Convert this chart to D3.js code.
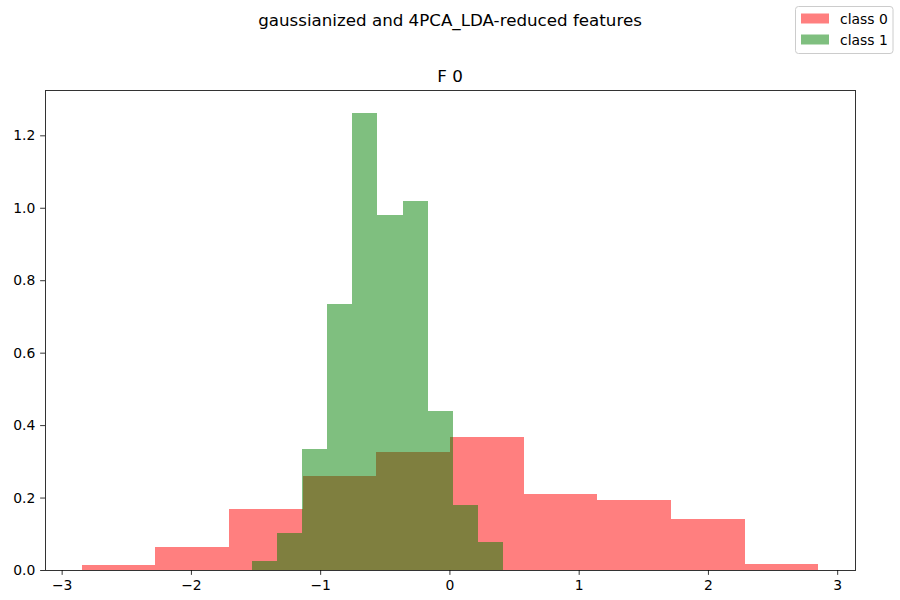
<!DOCTYPE html>
<html>
<head>
<meta charset="utf-8">
<script src="https://cdn.jsdelivr.net/npm/d3@7"></script>
<style>
  body { margin: 0; background: #fff; }
  svg { font-family: "DejaVu Sans", sans-serif; }
</style>
</head>
<body>
<svg id="chart" width="900" height="600"></svg>
<script>
// Histogram data (density).
const class0Edges = [ -2.844, -2.274, -1.704, -1.135, -0.565, 0.005, 0.574, 1.144, 1.714, 2.283, 2.853 ];
const class0Density = [ 0.014, 0.064, 0.168, 0.259, 0.326, 0.367, 0.210, 0.193, 0.141, 0.017 ];
const class1Edges = [ -1.528, -1.334, -1.139, -0.945, -0.751, -0.557, -0.362, -0.168, 0.026, 0.221, 0.415 ];
const class1Density = [ 0.025, 0.103, 0.334, 0.734, 1.262, 0.979, 1.018, 0.439, 0.179, 0.077 ];
const seriesNames = [ "class 0", "class 1" ];
const xTicks = [ -3, -2, -1, 0, 1, 2, 3 ];
const yTicks = [ 0, 0.2, 0.4, 0.6, 0.8, 1.0, 1.2 ];
const suptitle = "gaussianized and 4PCA_LDA-reduced features";
const title = "F 0";

// Layout.
const width = 900, height = 600,
    margin = { top: 90, right: 45, bottom: 30, left: 45 },
    colors = [ "#ff0000", "#008000" ],
    tickLen = 4.86, tickPad = 4.86;

const svg = d3.select( "#chart" );

// Build the bins.
const toBins = ( edges, dens ) => dens.map(( d, i ) => ({ x0: edges[ i ], x1: edges[ i + 1 ], v: d }));
const series = [ toBins( class0Edges, class0Density ), toBins( class1Edges, class1Density ) ];

// Scales, with matplotlib-like 5% margin on x and y.
const allEdges = class0Edges.concat( class1Edges );
const [ xmin, xmax ] = d3.extent( allEdges );
const xpad = 0.05 * ( xmax - xmin );
const xScale = d3.scaleLinear()
    .domain([ xmin - xpad, xmax + xpad ])
    .range([ margin.left, width - margin.right ]);
const ymax = d3.max( class0Density.concat( class1Density ));
const yScale = d3.scaleLinear()
    .domain([ 0, 1.05 * ymax ])
    .range([ height - margin.bottom, margin.top ]);

// Draw the bars, class 0 first then class 1 on top.
series.forEach(( bins, k ) => {
    svg.append( "g" )
        .selectAll( "rect" )
        .data( bins )
        .enter()
        .append( "rect" )
        .attr( "x", d => xScale( d.x0 ))
        .attr( "y", d => yScale( d.v ))
        .attr( "width", d => xScale( d.x1 ) - xScale( d.x0 ))
        .attr( "height", d => yScale( 0 ) - yScale( d.v ))
        .attr( "fill", colors[ k ] )
        .attr( "fill-opacity", 0.5 )
        .attr( "shape-rendering", "crispEdges" );
});

// Axes.
const xAxis = svg.append( "g" )
    .attr( "transform", `translate(0,${ height - margin.bottom })` )
    .call( d3.axisBottom( xScale ).tickValues( xTicks ).tickFormat( d3.format( "d" ))
        .tickSizeInner( tickLen ).tickSizeOuter( 0 ).tickPadding( tickPad ));
const yAxis = svg.append( "g" )
    .attr( "transform", `translate(${ margin.left },0)` )
    .call( d3.axisLeft( yScale ).tickValues( yTicks ).tickFormat( d3.format( ".1f" ))
        .tickSizeInner( tickLen ).tickSizeOuter( 0 ).tickPadding( tickPad ));
[ xAxis, yAxis ].forEach( g => {
    g.select( ".domain" ).remove();
    g.selectAll( "line" ).attr( "stroke", "#000" ).attr( "stroke-width", 0.8 );
    g.selectAll( "text" ).attr( "font-size", "13.9px" ).attr( "fill", "#000" )
        .attr( "font-family", "DejaVu Sans, sans-serif" );
});

// Frame.
svg.append( "rect" )
    .attr( "x", margin.left )
    .attr( "y", margin.top )
    .attr( "width", width - margin.left - margin.right )
    .attr( "height", height - margin.top - margin.bottom )
    .attr( "fill", "none" )
    .attr( "stroke", "#000" )
    .attr( "stroke-width", 0.8 )
    .attr( "shape-rendering", "crispEdges" );

// Titles.
svg.append( "text" )
    .attr( "x", width / 2 ).attr( "y", 26 )
    .attr( "text-anchor", "middle" )
    .attr( "font-size", "16.7px" )
    .text( suptitle );
svg.append( "text" )
    .attr( "x", ( margin.left + width - margin.right ) / 2 ).attr( "y", margin.top - 8.3 )
    .attr( "text-anchor", "middle" )
    .attr( "font-size", "16.7px" )
    .text( title );

// Legend.
const legend = svg.append( "g" ).attr( "transform", "translate(795.5,6.5)" );
legend.append( "rect" )
    .attr( "width", 97.5 ).attr( "height", 47 )
    .attr( "rx", 3 )
    .attr( "fill", "#fff" ).attr( "fill-opacity", 0.8 )
    .attr( "stroke", "#cccccc" ).attr( "stroke-width", 1 );
seriesNames.forEach(( name, k ) => {
    const row = legend.append( "g" ).attr( "transform", `translate(0,${ 7 + k * 21 })` );
    row.append( "rect" )
        .attr( "x", 5.5 ).attr( "y", 0 )
        .attr( "width", 28 ).attr( "height", 10 )
        .attr( "fill", colors[ k ] ).attr( "fill-opacity", 0.5 );
    row.append( "text" )
        .attr( "x", 44.5 ).attr( "y", 10 )
        .attr( "font-size", "13.9px" )
        .text( name );
});
</script>
</body>
</html>
